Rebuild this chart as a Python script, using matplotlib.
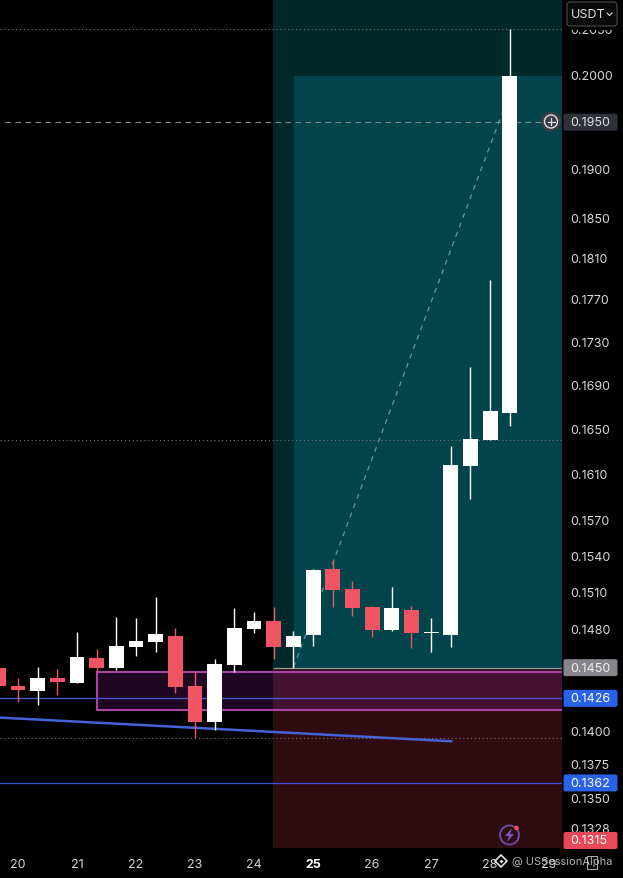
#!/usr/bin/env python3
"""Candlestick chart with long position box, log price scale, dark theme."""

import matplotlib
matplotlib.use("Agg")
import matplotlib.pyplot as plt
import matplotlib.patches as mpatches
from matplotlib.ticker import NullLocator
from matplotlib.transforms import blended_transform_factory

plt.rcParams["font.family"] = ["Inter", "DejaVu Sans"]

UP = "#ffffff"
DOWN = "#f15462"

# one candle every 8h, x is in days of the month
days = [19.667, 20.0, 20.333, 20.667, 21.0, 21.333, 21.667, 22.0, 22.333, 22.667,
        23.0, 23.333, 23.667, 24.0, 24.333, 24.667, 25.0, 25.333, 25.667, 26.0,
        26.333, 26.667, 27.0, 27.333, 27.667, 28.0, 28.333]
opens = [0.14497, 0.14355, 0.14316, 0.14418, 0.14379, 0.14576, 0.14497, 0.14664, 0.14704, 0.14752,
         0.14355, 0.14078, 0.14521, 0.14808, 0.14873, 0.14664, 0.14760, 0.15301, 0.15134, 0.14987,
         0.14800, 0.14962, 0.14776, 0.14760, 0.16174, 0.16405, 0.16648]
closes = [0.14355, 0.14324, 0.14418, 0.14387, 0.14584, 0.14497, 0.14672, 0.14712, 0.14768, 0.14347,
          0.14078, 0.14529, 0.14816, 0.14873, 0.14664, 0.14752, 0.15293, 0.15126, 0.14978, 0.14800,
          0.14978, 0.14776, 0.14784, 0.16183, 0.16414, 0.16666, 0.20000]
highs = [0.14550, 0.14418, 0.14505, 0.14489, 0.14784, 0.14648, 0.14905, 0.14897, 0.15068, 0.14816,
         0.14473, 0.14568, 0.14978, 0.14946, 0.14987, 0.14792, 0.15301, 0.15376, 0.15200, 0.14995,
         0.15151, 0.14995, 0.14897, 0.16351, 0.17070, 0.17898, 0.20507]
lows = [0.14250, 0.14231, 0.14208, 0.14285, 0.14379, 0.14465, 0.14481, 0.14592, 0.14624, 0.14301,
        0.13955, 0.14016, 0.14465, 0.14776, 0.14568, 0.14497, 0.14672, 0.14987, 0.14913, 0.14744,
        0.14792, 0.14656, 0.14624, 0.14664, 0.15895, 0.16405, 0.16530]

day_ticks = [20, 21, 22, 23, 24, 25, 26, 27, 28, 29]

price_ticks = [0.2050, 0.2000, 0.1900, 0.1850, 0.1810, 0.1770, 0.1730, 0.1690, 0.1650, 0.1610,
               0.1570, 0.1540, 0.1510, 0.1480, 0.1400, 0.1375, 0.1350, 0.1328]

# price, background colour, text colour
boxed_prices = [
    (0.1950, "#2f313b", "#e0e0e0"),
    (0.1450, "#85858b", "#f0f0f0"),
    (0.1426, "#2962e6", "#ffffff"),
    (0.1362, "#2962e6", "#ffffff"),
    (0.1315, "#e84857", "#ffffff"),
]

fig = plt.figure(figsize=(6.23, 8.79), dpi=100, facecolor="black")
ax = fig.add_axes([0, 29 / 879, 562 / 623, 850 / 879], facecolor="black")
ax.set_yscale("log")
ax.set_xlim(19.695, 29.22)
ax.set_ylim(0.1314, 0.20849)
ax.yaxis.set_major_locator(NullLocator())
ax.yaxis.set_minor_locator(NullLocator())
for side in ax.spines.values():
    side.set_visible(False)

# position box: darker outer zone, teal target, red stop
ymin, ymax = ax.get_ylim()
xmax = ax.get_xlim()[1]
stop_floor = 0.13148
ax.add_patch(mpatches.Rectangle((24.33, 0.1450), xmax - 24.33, ymax - 0.1450, fc="#01292c", ec="none", zorder=1))
ax.add_patch(mpatches.Rectangle((24.67, 0.1450), xmax - 24.67, 0.2000 - 0.1450, fc="#01444b", ec="none", zorder=1.1))
ax.add_patch(mpatches.Rectangle((24.33, stop_floor), xmax - 24.33, 0.1450 - stop_floor, fc="#2e0c12", ec="none", zorder=1))
ax.hlines(0.1450, 24.33, xmax, color="#9c9c9c", lw=0.9, zorder=2)

# purple zone
ax.add_patch(mpatches.Rectangle((21.34, 0.1417), xmax - 21.34 + 0.1, 0.14465 - 0.1417,
                                fc=(0.62, 0.15, 0.72, 0.2), ec="#a8459f", lw=1.5, zorder=2))

# levels
for lvl in [0.2051, 0.1641, 0.1396]:
    ax.axhline(lvl, color="#777777", lw=0.8, ls=(0, (1, 2.5)), zorder=2)
ax.hlines(0.1950, 19.78, xmax, color="#7c8c8c", lw=0.8, ls=(0, (5, 4)), zorder=3)
ax.axhline(0.1426, color="#4c57c4", lw=1.0, zorder=3)
ax.axhline(0.1362, color="#3f52d0", lw=0.9, zorder=3)
ax.plot([19.695, 27.34], [0.14112, 0.13932], color="#4463d6", lw=1.8, zorder=4)
ax.plot([24.67, 28.33], [0.14505, 0.1980], color="#5f9a9e", lw=0.9, ls=(0, (4, 4)), zorder=3)

# candles
for d, o, c, h, l in zip(days, opens, closes, highs, lows):
    col = UP if c >= o else DOWN
    ax.vlines(d, l, h, color=col, lw=1.0, zorder=5)
    ax.bar(d, abs(c - o), bottom=min(o, c), width=0.254, color=col, lw=0, zorder=6)

# time axis
ax.set_xticks(day_ticks)
ax.set_xticklabels([str(d) for d in day_ticks], fontsize=9, color="#d6d6d6")
ax.tick_params(axis="x", length=0, pad=6.5)
ax.get_xticklabels()[5].set_fontweight("bold")
ax.get_xticklabels()[5].set_color("#ffffff")

# price axis labels
tr = blended_transform_factory(ax.transAxes, ax.transData)
for p in price_ticks:
    ax.text(1.015, p, f"{p:.4f}", transform=tr, fontsize=9, color="#d6d6d6",
            va="center", ha="left", clip_on=False)

# chrome in pixel coordinates
px = fig.add_axes([0, 0, 1, 1], facecolor="none")
px.set_xlim(0, 623)
px.set_ylim(879, 0)
px.axis("off")

for p, bg, fg in boxed_prices:
    # the last box sits against the bottom of the scale
    y_px = min(879 - ax.transData.transform((0, p))[1], 841.5)
    px.add_patch(mpatches.FancyBboxPatch((563.5, y_px - 8.5), 54, 17, boxstyle="round,pad=0,rounding_size=2",
                                         fc=bg, ec="none"))
    px.text(570.5, y_px, f"{p:.4f}", fontsize=9, color=fg, va="center", ha="left")

# the currency button hides most of the top price label
px.add_patch(mpatches.Rectangle((563, 0), 60, 31, fc="black", ec="none"))
px.add_patch(mpatches.FancyBboxPatch((567, 3), 50, 24, boxstyle="round,pad=0,rounding_size=3",
                                     fc="#0a0a0a", ec="#4a4a4a", lw=0.8))
px.text(570.5, 15, "USDT", fontsize=9, color="#dcdcdc", va="center", ha="left")
px.plot([607, 609.5, 612], [14, 16.5, 14], color="#dcdcdc", lw=0.8)

# plus button on the crosshair
px.add_patch(mpatches.Circle((551, 122.5), 10, fc="#3a3c46", ec="none"))
px.add_patch(mpatches.Circle((551, 122.5), 6.5, fc="none", ec="#e0e0e0", lw=1))
px.plot([547.5, 554.5], [122.5, 122.5], color="#e0e0e0", lw=0.9)
px.plot([551, 551], [119, 126], color="#e0e0e0", lw=0.9)

# lightning badge
px.add_patch(mpatches.Circle((509.5, 836), 9.5, fc="none", ec="#6b4a9c", lw=1.4))
px.add_patch(mpatches.Polygon([(512, 829), (505, 837), (509, 837), (507, 843), (514, 835), (510, 835)],
                              fc="#7d52c8", ec="none"))
px.add_patch(mpatches.Circle((516.5, 829), 2.3, fc="#e8505b", ec="none"))

# watermark over the time axis
px.plot([501], [862], marker="D", ms=6, mfc="none", mec="#e4e4e4", mew=1.2)
px.plot([501], [862], marker="D", ms=2, mfc="#e4e4e4", mec="none")
px.text(512, 862, "@ USSessionAlpha", fontsize=8, color="#b4b4b4", va="center", ha="left")
px.add_patch(mpatches.Rectangle((587, 857), 10, 13, fc="none", ec="#a8a8a8", lw=0.8))

fig.savefig("out.png", dpi=100, facecolor="black")
